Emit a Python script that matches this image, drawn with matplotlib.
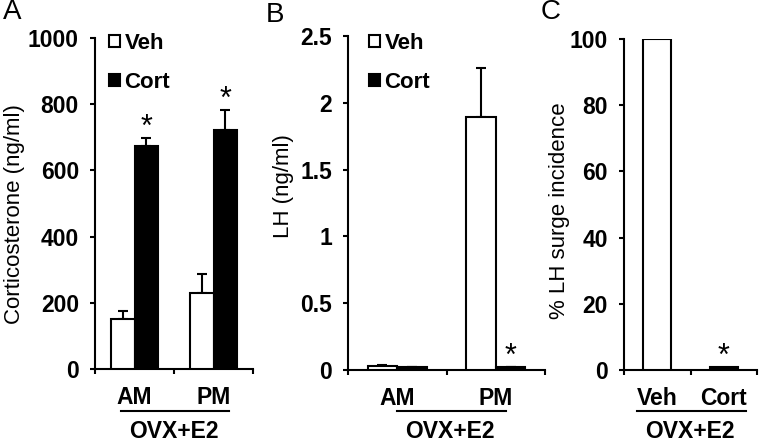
import matplotlib.pyplot as plt
from matplotlib.lines import Line2D

plt.rcParams['font.family'] = ['Liberation Sans', 'DejaVu Sans']

W, H = 762, 443

# data
times = ['AM', 'PM']
treatments = ['Veh', 'Cort']

cort_veh = [150, 230]
cort_veh_err = [25, 57]
cort_cort = [675, 722]
cort_cort_err = [24, 60]

lh_veh = [0.03, 1.89]
lh_veh_err = [0.01, 0.37]
lh_cort = [0.02, 0.02]
lh_cort_err = [0.004, 0.004]

surge_incidence = [100, 1]


def px_axes(fig, x0, x1, ytop, ybot):
    return fig.add_axes([x0 / W, 1 - ybot / H, (x1 - x0) / W, (ybot - ytop) / H])


def style(ax, ymax, yticks, yticklabels):
    for s in ['top', 'right']:
        ax.spines[s].set_visible(False)
    for s in ['left', 'bottom']:
        ax.spines[s].set_linewidth(1.5)
    ax.set_xlim(0, 2)
    ax.set_ylim(0, ymax)
    ax.set_yticks(yticks)
    ax.set_yticklabels(yticklabels, fontsize=16.5, fontweight='bold')
    ax.set_xticks([0, 1, 2])
    ax.set_xticklabels([])
    ax.tick_params(axis='both', direction='out', length=3.6, width=1.5)
    ax.tick_params(axis='y', pad=8)


def star(ax, x, y, off=1.5):
    ax.annotate('*', (x, y), xytext=(0, off), textcoords='offset points',
                ha='center', va='baseline', fontsize=22)


def group_labels(ax, labels, xs):
    ax.set_xticks(xs, minor=True)
    ax.set_xticklabels(labels, minor=True, fontsize=16.5, fontweight='bold')
    ax.tick_params(axis='x', which='minor', length=0, pad=12)


def ovx(fig, x0, x1, xc):
    fig.add_artist(Line2D([x0 / W, x1 / W], [1 - 410.5 / H, 1 - 410.5 / H],
                          color='black', lw=1.5))
    fig.text(xc / W, 1 - 432 / H, 'OVX+E2', ha='center', va='center',
             fontsize=16.5, fontweight='bold')


def legend(ax, handles, x, y):
    ax.legend(handles, treatments, loc='upper left',
              bbox_to_anchor=(x / W, 1 - y / H), bbox_transform=ax.figure.transFigure,
              frameon=False, handlelength=0.5, handleheight=0.5,
              handletextpad=0.2, labelspacing=0.8, borderpad=0, borderaxespad=0,
              prop={'size': 16, 'weight': 'bold'})


fig = plt.figure(figsize=(W / 100, H / 100), dpi=100)

bw = 0.3
centers = [0.5, 1.5]
ebkw = dict(fmt='none', ecolor='black', elinewidth=1.5, capsize=3.3, capthick=1.5)

# Panel A
axA = px_axes(fig, 95, 253, 38, 369)
style(axA, 1000, [0, 200, 400, 600, 800, 1000], ['0', '200', '400', '600', '800', '1000'])
xv = [c - bw / 2 for c in centers]
xc = [c + bw / 2 for c in centers]
bv = axA.bar(xv, cort_veh, bw, color='white', edgecolor='black', lw=1.5, zorder=3)
bc = axA.bar(xc, cort_cort, bw, color='black', edgecolor='black', lw=1.5, zorder=3)
axA.errorbar(xv, cort_veh, yerr=[[0, 0], cort_veh_err], zorder=2, **ebkw)
axA.errorbar(xc, cort_cort, yerr=[[0, 0], cort_cort_err], zorder=2, **ebkw)
for x, v, e in zip(xc, cort_cort, cort_cort_err):
    star(axA, x, v + e)
group_labels(axA, times, centers)
legend(axA, [bv, bc], 109, 33)
fig.text(3 / W, 1 - 12 / H, 'A', fontsize=20, ha='left', va='center')
fig.text(15 / W, 1 - 214 / H, 'Corticosterone (ng/ml)', rotation=90,
         ha='center', va='center', fontsize=16)
ovx(fig, 121, 229, 174)

# Panel B
axB = px_axes(fig, 348, 545, 36, 370)
style(axB, 2.5, [0, 0.5, 1, 1.5, 2, 2.5], ['0', '0.5', '1', '1.5', '2', '2.5'])
bv = axB.bar(xv, lh_veh, bw, color='white', edgecolor='black', lw=1.5, zorder=3)
bc = axB.bar(xc, lh_cort, bw, color='black', edgecolor='black', lw=1.5, zorder=3)
axB.errorbar(xv, lh_veh, yerr=[[0, 0], lh_veh_err], zorder=2, **ebkw)
axB.errorbar(xc, lh_cort, yerr=[[0, 0], lh_cort_err], zorder=2, **ebkw)
star(axB, xc[1], lh_cort[1] + lh_cort_err[1])
group_labels(axB, times, centers)
legend(axB, [bv, bc], 369, 33)
fig.text(266 / W, 1 - 15 / H, 'B', fontsize=20, ha='left', va='center')
fig.text(283 / W, 1 - 186 / H, 'LH (ng/ml)', rotation=90,
         ha='center', va='center', fontsize=16)
ovx(fig, 397, 506, 450)

# Panel C
axC = px_axes(fig, 624, 757, 39, 370)
style(axC, 100, [0, 20, 40, 60, 80, 100], ['0', '20', '40', '60', '80', '100'])
bwc = 0.42
axC.bar(centers, surge_incidence, bwc, color=['white', 'black'], edgecolor='black',
        lw=1.5, zorder=3)
star(axC, centers[1], surge_incidence[1])
group_labels(axC, treatments, centers)
fig.text(541 / W, 1 - 12 / H, 'C', fontsize=20, ha='left', va='center')
fig.text(560 / W, 1 - 211 / H, '% LH surge incidence', rotation=90,
         ha='center', va='center', fontsize=16)
ovx(fig, 637, 746, 690)

fig.savefig('out.png', dpi=100)
